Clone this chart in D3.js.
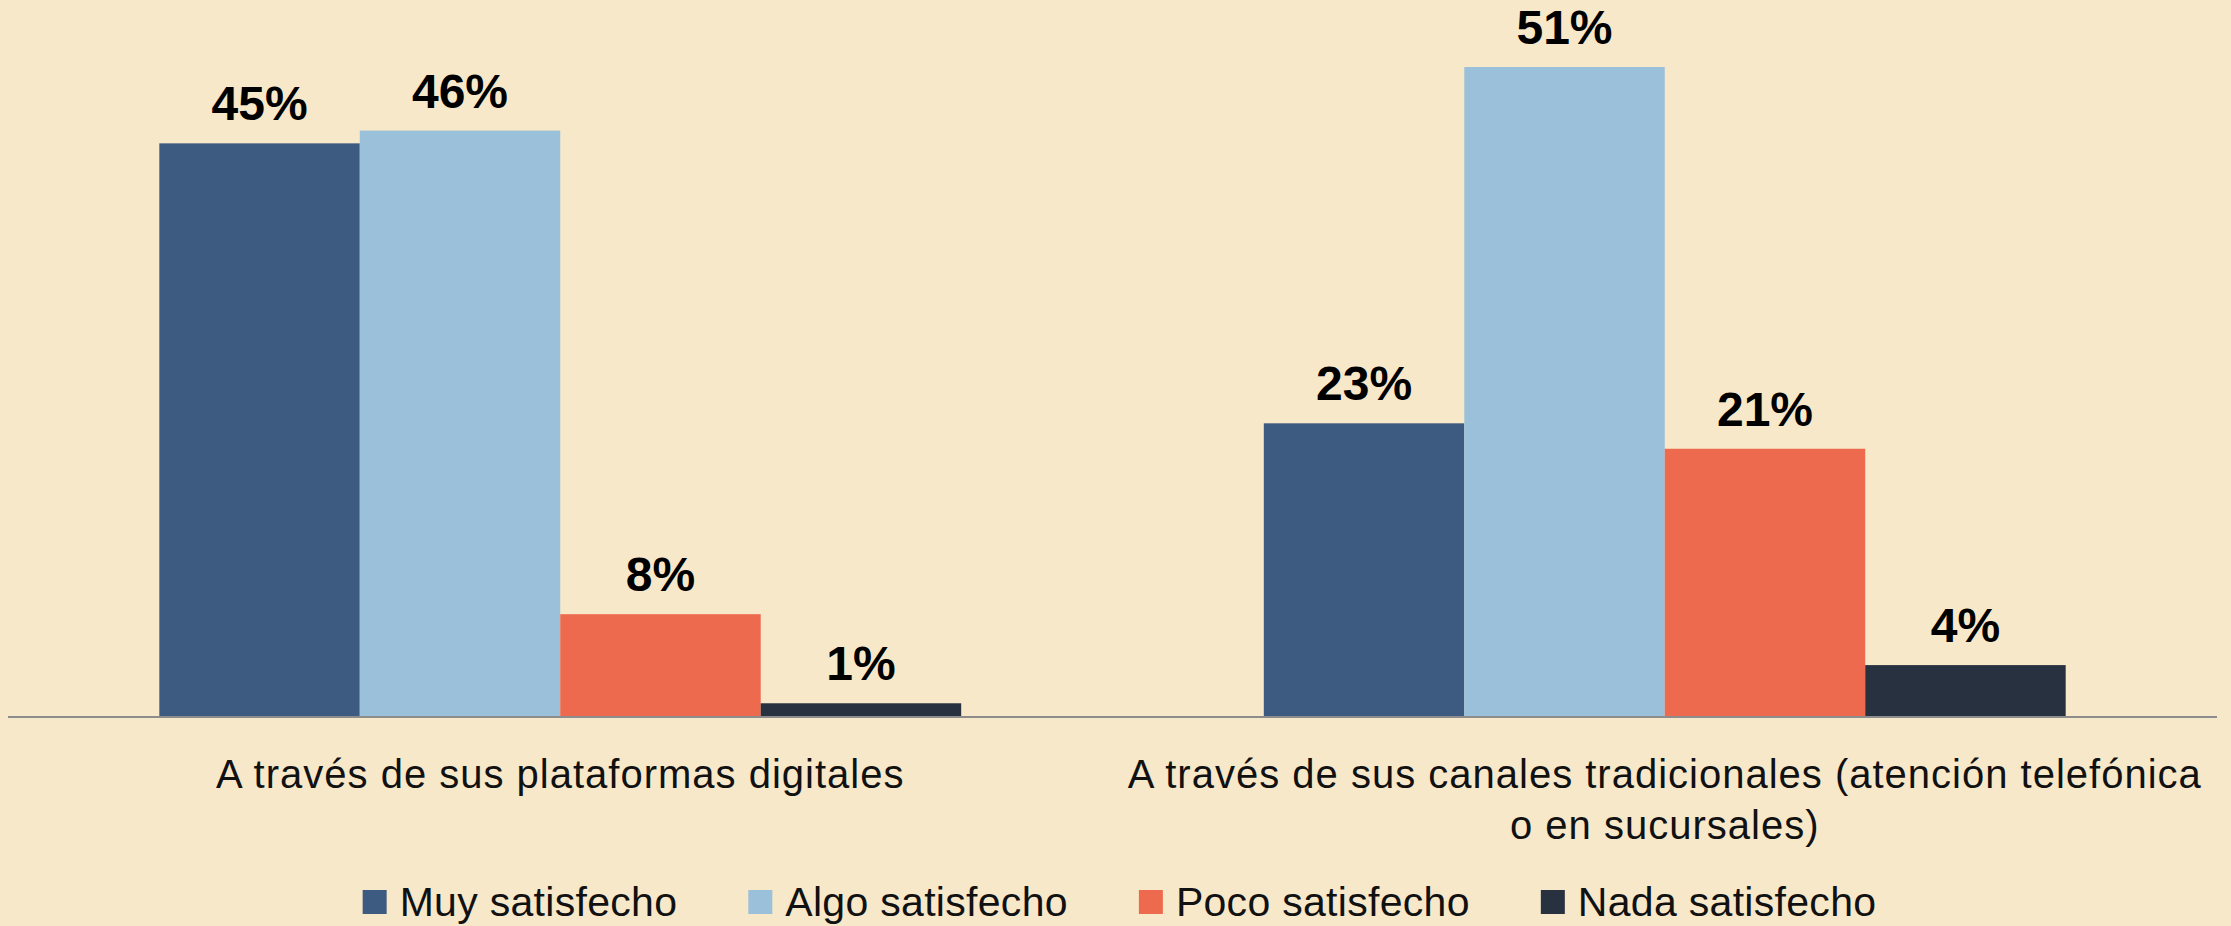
<!DOCTYPE html>
<html>
<head>
<meta charset="utf-8">
<script src="https://cdn.jsdelivr.net/npm/d3@7"></script>
<style>
  html, body { margin: 0; padding: 0; background: #f7e8ca; }
  svg { display: block; }
</style>
</head>
<body>
<svg id="chart" width="2231" height="926"></svg>
<script>
// datos
const categories = [
  'A través de sus plataformas digitales',
  'A través de sus canales tradicionales (atención telefónica o en sucursales)'
]
const series = ['Muy satisfecho', 'Algo satisfecho', 'Poco satisfecho', 'Nada satisfecho']
const muySatisfecho = [45, 23]
const algoSatisfecho = [46, 51]
const pocoSatisfecho = [8, 21]
const nadaSatisfecho = [1, 4]

const values = [muySatisfecho, algoSatisfecho, pocoSatisfecho, nadaSatisfecho]
const colors = ['#3d5a80', '#9ac0da', '#ee6a4f', '#283140']

const width = 2231, height = 926
const svg = d3.select('#chart')

let x0 = d3.scaleBand()
    .domain(categories)
    .range([8, 2217])

const groupWidth = x0.bandwidth() * 0.726
let x1 = d3.scaleBand()
    .domain(series)
    .range([0, groupWidth])

let y = d3.scaleLinear()
    .domain([0, 51])
    .range([716, 67])

let color = d3.scaleOrdinal().domain(series).range(colors)

let data = []
categories.forEach((c, i) => {
  series.forEach((s, j) => data.push({cat: c, serie: s, value: values[j][i]}))
})

const off = (x0.bandwidth() - groupWidth) / 2

svg.append('g')
  .selectAll('rect')
  .data(data)
  .enter().append('rect')
    .attr('x', d => x0(d.cat) + off + x1(d.serie))
    .attr('y', d => y(d.value))
    .attr('width', x1.bandwidth())
    .attr('height', d => y(0) - y(d.value))
    .attr('fill', d => color(d.serie))

svg.append('g')
  .selectAll('text')
  .data(data)
  .enter().append('text')
    .attr('x', d => x0(d.cat) + off + x1(d.serie) + x1.bandwidth() / 2)
    .attr('y', d => y(d.value) - 23)
    .attr('text-anchor', 'middle')
    .style('font-family', '"Liberation Sans", Arial, sans-serif')
    .style('font-weight', 'bold')
    .style('font-size', '48px')
    .attr('fill', '#000')
    .text(d => d.value + '%')

// eje
svg.append('line')
    .attr('x1', x0.range()[0]).attr('x2', x0.range()[1])
    .attr('y1', y(0) + 1).attr('y2', y(0) + 1)
    .attr('stroke', '#8c8c8c')
    .attr('stroke-width', 2)

// etiquetas de categoria (con salto de linea)
let catLabel = svg.append('g')
  .selectAll('text')
  .data(categories)
  .enter().append('text')
    .attr('x', d => x0(d) + x0.bandwidth() / 2)
    .attr('y', 788)
    .attr('text-anchor', 'middle')
    .style('font-family', '"Liberation Sans", Arial, sans-serif')
    .style('font-size', '40px')
    .style('letter-spacing', '1px')
    .attr('fill', '#111')

catLabel.each(function(d) {
  let text = d3.select(this)
  let words = d.split(' ')
  let cx = x0(d) + x0.bandwidth() / 2
  let line = []
  let tspan = text.append('tspan').attr('x', cx).attr('dy', 0)
  words.forEach(w => {
    line.push(w)
    tspan.text(line.join(' '))
    if (tspan.node().getComputedTextLength() > 1090 && line.length > 1) {
      line.pop()
      tspan.text(line.join(' '))
      line = [w]
      tspan = text.append('tspan').attr('x', cx).attr('dy', 51).text(w)
    }
  })
})

// leyenda
let legend = svg.append('g')
let lx = 0
series.forEach(s => {
  let g = legend.append('g').attr('transform', `translate(${lx},0)`)
  g.append('rect')
    .attr('x', 0).attr('y', 890)
    .attr('width', 24).attr('height', 24)
    .attr('fill', color(s))
  let t = g.append('text')
    .attr('x', 37).attr('y', 916)
    .style('font-family', '"Liberation Sans", Arial, sans-serif')
    .style('font-size', '41px')
    .style('letter-spacing', '0.3px')
    .attr('fill', '#111')
    .text(s)
  lx += 37 + t.node().getComputedTextLength() + 71
})
const legendWidth = lx - 71
legend.attr('transform', `translate(${(width - legendWidth) / 2 + 4},0)`)
</script>
</body>
</html>
